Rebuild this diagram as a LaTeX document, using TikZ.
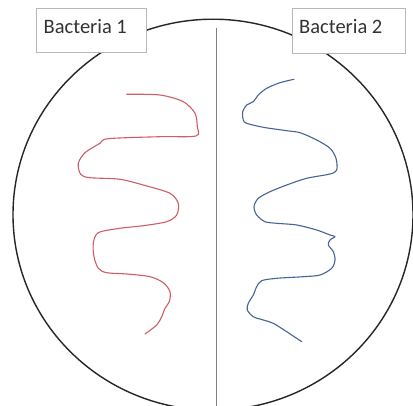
\documentclass[tikz,border=0pt]{standalone}
\usepackage{fontspec}
\setmainfont{Carlito}
\begin{document}
\begin{tikzpicture}[x=1pt,y=-1pt,
  dish/.style={draw=black!85,line width=1.4pt},
  divider/.style={draw=black!50,line width=0.9pt},
  labelbox/.style={draw=black!28,fill=white,line width=0.8pt},
  labeltext/.style={anchor=base west,inner sep=0pt,font=\fontsize{20.5}{24}\selectfont,text=black!80},
  bugred/.style={draw={rgb,255:red,205;green,95;blue,100},line width=1.1pt,line join=round,line cap=round},
  bugblue/.style={draw={rgb,255:red,70;green,100;blue,150},line width=1.1pt,line join=round,line cap=round}]
\useasboundingbox (0,0) rectangle (413,406);
\path[fill=white] (0,0) rectangle (413,406);
% petri dish
\draw[dish] (213,214.7) ellipse [x radius=200, y radius=195.5];
% divider
\coordinate (dtop) at (216.5,28);
\coordinate (dbot) at (216.5,406);
\draw[divider] (dtop) -- (dbot);
% bacteria 1 (red)
\draw[bugred] plot[smooth,tension=0.5] coordinates {
 (126.7,94.3) (160,95) (183.3,101.7) (195,113.3) (197.3,126.7) (196,136)
 (160,136.7) (108.3,138.7) (100,143.3) (85,152.7) (78.3,163.3) (80.7,174.3)
 (90,177.7) (120,179.3) (146.7,186) (170,193.3) (178.3,203.3) (176.7,215)
 (166.7,221.7) (143.3,225.7) (120,228.3) (98.3,232.7) (93.3,243.3) (94,256.7)
 (98.3,268.3) (106.7,272.7) (126.7,274) (150,276.7) (163.3,282.7) (170,291.7)
 (169.3,301.7) (165,308.3) (161.7,316.7) (156.7,325) (145,334)};
% bacteria 2 (blue)
\draw[bugblue] plot[smooth,tension=0.5] coordinates {
 (294,79.3) (280,82.7) (266.7,88.3) (258.3,95) (253.3,101.7) (246.7,105)
 (242.7,111.7) (243.3,120) (246.7,123.3) (263.3,127.3) (286.7,130.7) (300,132.7)
 (316.7,140) (330,148.3) (336,158.3) (336.7,170) (330,174) (306.7,178.3)
 (286.7,185) (270,191.7) (258.3,198.3) (254,206.7) (256.7,215) (265,221.7)
 (276.7,223.3) (296.7,225) (316.7,230) (330,235) (335,236.7) (330,240)
 (328.3,245) (333.3,251.7) (335,260) (331.7,268.3) (320,275) (303.3,276.7)
 (276.7,278.3) (261.7,280.7) (256.7,286.7) (253.3,295) (248.3,303.3) (247.3,310)
 (253.3,316.7) (263.3,320) (273.3,323.3) (286.7,331.7) (301.7,341.7)};
% labels
\node[labelbox,minimum width=109.5pt,minimum height=44pt,anchor=north west,inner sep=0pt] (box1) at (36,8.3) {};
\node[labeltext] (lab1) at (43.5,33.4) {Bacteria 1};
\node[labelbox,minimum width=112.7pt,minimum height=45pt,anchor=north west,inner sep=0pt] (box2) at (292.3,8.3) {};
\node[labeltext] (lab2) at (299,33.4) {Bacteria 2};
\end{tikzpicture}
\end{document}
